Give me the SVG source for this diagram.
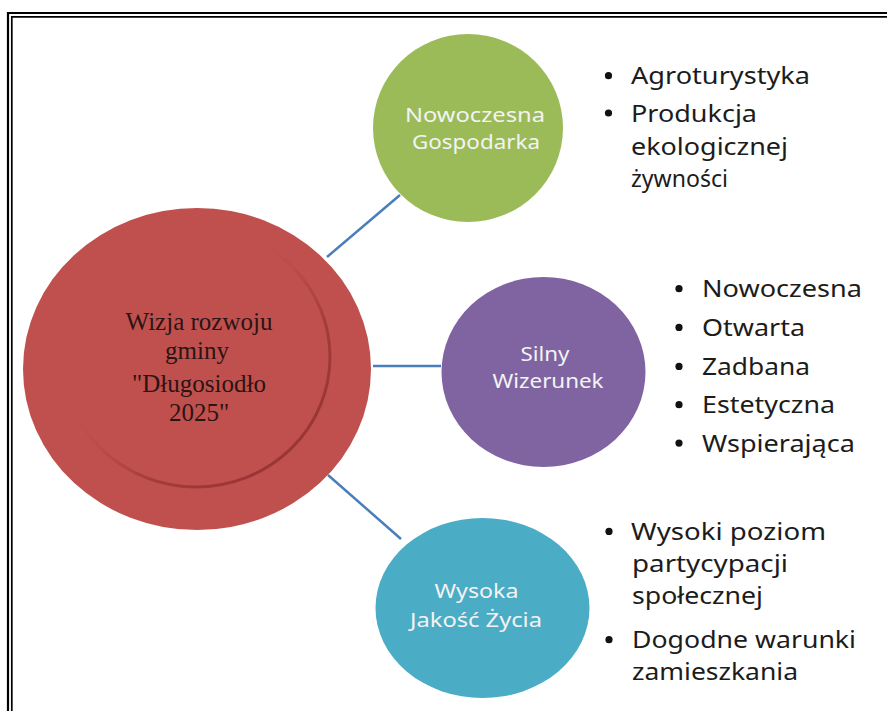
<svg xmlns="http://www.w3.org/2000/svg" width="887" height="711" viewBox="0 0 887 711">
  <defs>
    <style>
      .frame { stroke: #000; fill: none; }
      .conn { stroke: #4a7ebb; stroke-width: 2.5; fill: none; }
      .clabel { font-family: "Noto Sans", "Open Sans", "Liberation Sans", sans-serif; font-size: 20px; fill: #f3f3f3; text-anchor: middle; }
      .center { font-family: "Liberation Serif", "DejaVu Serif", serif; font-size: 25px; fill: #2a1414; text-anchor: middle; }
      .item { font-family: "Noto Sans", "Open Sans", "Liberation Sans", sans-serif; font-size: 24px; fill: #1c1c1c; }
      .dot { fill: #111; }
    </style>
    <linearGradient id="ringGrad" x1="0" y1="0.1" x2="0.85" y2="1">
      <stop offset="0" stop-color="#c0504d" stop-opacity="0"/>
      <stop offset="0.42" stop-color="#a94442" stop-opacity="0"/>
      <stop offset="0.7" stop-color="#9c3836" stop-opacity="0.8"/>
      <stop offset="1" stop-color="#963331" stop-opacity="1"/>
    </linearGradient>
    <filter id="soft" x="-5%" y="-5%" width="110%" height="110%">
      <feGaussianBlur stdDeviation="0.7"/>
    </filter>
  </defs>

  <rect x="0" y="0" width="887" height="711" fill="#fff"/>

  <!-- double frame (top and left) -->
  <g id="frame">
    <path class="frame" stroke-width="2.2" d="M8,711 V13 H887"/>
    <path class="frame" stroke-width="1.7" d="M11.8,711 V16.8 H887"/>
  </g>

  <!-- connectors -->
  <g id="connectors">
    <line class="conn" x1="327" y1="257" x2="400" y2="195"/>
    <line class="conn" x1="373" y1="366" x2="441" y2="366"/>
    <line class="conn" x1="328" y1="475" x2="401" y2="539"/>
  </g>

  <!-- central node -->
  <g id="node-center">
    <ellipse cx="197" cy="369" rx="174" ry="161" fill="#c0504d"/>
    <ellipse cx="196" cy="357" rx="134" ry="130" fill="none" stroke="url(#ringGrad)" stroke-width="3" filter="url(#soft)"/>
    <text class="center" x="199" y="330">Wizja rozwoju</text>
    <text class="center" x="197" y="359">gminy</text>
    <text class="center" x="199" y="392">"Długosiodło</text>
    <text class="center" x="199" y="421">2025"</text>
  </g>

  <!-- green node -->
  <g id="node-gospodarka">
    <ellipse cx="468" cy="128" rx="95" ry="94" fill="#9bbb59"/>
    <text class="clabel" x="475" y="122" textLength="140" lengthAdjust="spacingAndGlyphs">Nowoczesna</text>
    <text class="clabel" x="476" y="149" textLength="128" lengthAdjust="spacingAndGlyphs">Gospodarka</text>
  </g>

  <!-- purple node -->
  <g id="node-wizerunek">
    <ellipse cx="543.5" cy="372" rx="102" ry="95" fill="#8064a2"/>
    <text class="clabel" x="545" y="361" textLength="49" lengthAdjust="spacingAndGlyphs">Silny</text>
    <text class="clabel" x="548" y="388" textLength="111" lengthAdjust="spacingAndGlyphs">Wizerunek</text>
  </g>

  <!-- teal node -->
  <g id="node-jakosc">
    <ellipse cx="482.5" cy="608" rx="107" ry="90" fill="#4bacc6"/>
    <text class="clabel" x="476.5" y="598" textLength="84" lengthAdjust="spacingAndGlyphs">Wysoka</text>
    <text class="clabel" x="476" y="627" textLength="132" lengthAdjust="spacingAndGlyphs">Jako&#347;&#263; &#379;ycia</text>
  </g>

  <!-- list 1 -->
  <g id="list-gospodarka">
    <circle class="dot" cx="608.5" cy="75.7" r="3.6"/>
    <circle class="dot" cx="608.5" cy="113" r="3.6"/>
    <text class="item" x="631" y="84" textLength="179" lengthAdjust="spacingAndGlyphs">Agroturystyka</text>
    <text class="item" x="631" y="122" textLength="126" lengthAdjust="spacingAndGlyphs">Produkcja</text>
    <text class="item" x="631" y="154.5" textLength="157" lengthAdjust="spacingAndGlyphs">ekologicznej</text>
    <text class="item" x="631" y="187" textLength="97" lengthAdjust="spacingAndGlyphs">&#380;ywno&#347;ci</text>
  </g>

  <!-- list 2 -->
  <g id="list-wizerunek">
    <circle class="dot" cx="679" cy="288.7" r="3.6"/>
    <circle class="dot" cx="679" cy="327.4" r="3.6"/>
    <circle class="dot" cx="679" cy="366.4" r="3.6"/>
    <circle class="dot" cx="679" cy="404.7" r="3.6"/>
    <circle class="dot" cx="679" cy="443.1" r="3.6"/>
    <text class="item" x="702" y="297.3" textLength="160" lengthAdjust="spacingAndGlyphs">Nowoczesna</text>
    <text class="item" x="702" y="336" textLength="103" lengthAdjust="spacingAndGlyphs">Otwarta</text>
    <text class="item" x="702" y="375" textLength="108" lengthAdjust="spacingAndGlyphs">Zadbana</text>
    <text class="item" x="702" y="413.3" textLength="133" lengthAdjust="spacingAndGlyphs">Estetyczna</text>
    <text class="item" x="702" y="451.7" textLength="153" lengthAdjust="spacingAndGlyphs">Wspieraj&#261;ca</text>
  </g>

  <!-- list 3 -->
  <g id="list-jakosc">
    <circle class="dot" cx="609" cy="531.4" r="3.6"/>
    <circle class="dot" cx="609" cy="639.7" r="3.6"/>
    <text class="item" x="631" y="540" textLength="195" lengthAdjust="spacingAndGlyphs">Wysoki poziom</text>
    <text class="item" x="632" y="571.7" textLength="156" lengthAdjust="spacingAndGlyphs">partycypacji</text>
    <text class="item" x="632" y="604.3" textLength="131" lengthAdjust="spacingAndGlyphs">spo&#322;ecznej</text>
    <text class="item" x="632" y="648.3" textLength="224" lengthAdjust="spacingAndGlyphs">Dogodne warunki</text>
    <text class="item" x="632" y="680" textLength="166" lengthAdjust="spacingAndGlyphs">zamieszkania</text>
  </g>
</svg>
